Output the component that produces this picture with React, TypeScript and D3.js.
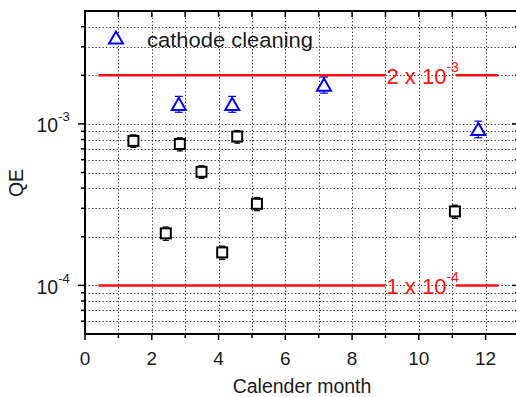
import { useEffect, useRef } from 'react'
import * as d3 from 'd3'

// QE measurements (black squares)
const qeMonths = [1.45, 2.42, 2.84, 3.49, 4.11, 4.56, 5.15, 11.08]
const qeValues = [7.85e-4, 2.1e-4, 7.5e-4, 5.05e-4, 1.6e-4, 8.35e-4, 3.2e-4, 2.87e-4]
const qeErrors = [0.7e-4, 0.2e-4, 0.7e-4, 0.45e-4, 0.15e-4, 0.75e-4, 0.3e-4, 0.27e-4]

// after cathode cleaning (blue triangles)
const cleanMonths = [2.81, 4.41, 7.16, 11.78]
const cleanValues = [1.33e-3, 1.33e-3, 1.75e-3, 9.3e-4]
const cleanErrors = [1.5e-4, 1.5e-4, 2.0e-4, 1.1e-4]

// reference levels
const refLevels = [2e-3, 1e-4]
const refMantissa = ['2', '1']
const refExponent = ['-3', '-4']

const xTicks = [0, 2, 4, 6, 8, 10, 12]
const yMajor = [1e-4, 1e-3]
const yMajorExp = ['-4', '-3']

const W = 516
const H = 397

export default function App() {
  const ref = useRef<SVGSVGElement>(null)

  useEffect(() => {
    const svg = d3.select(ref.current)
    svg.selectAll('*').remove()
    const font = 'Liberation Sans, Arial, sans-serif'
    const ink = '#1a1a1a'

    const x = d3.scaleLinear().domain([0, 13]).range([85, 519])
    const y = d3.scaleLog().domain([5e-5, 5e-3]).range([334, 11])
    const [x0, x1] = x.range()
    const [yb, yt] = y.range()

    // minor / major log values
    const yAll: number[] = []
    for (const dec of [1e-5, 1e-4, 1e-3]) {
      for (let m = 1; m <= 9; m++) {
        const v = m * dec
        if (v > 5e-5 && v < 5e-3) yAll.push(v)
      }
    }
    const months = d3.range(1, 13)

    // dotted grid
    const grid = svg.append('g').attr('stroke', '#333').attr('stroke-width', 1)
      .attr('stroke-dasharray', '1.3,2.2')
    grid.selectAll('line.h').data(yAll).enter().append('line')
      .attr('x1', x0).attr('x2', x1)
      .attr('y1', d => Math.round(y(d)) + 0.5).attr('y2', d => Math.round(y(d)) + 0.5)
    grid.selectAll('line.v').data(months).enter().append('line')
      .attr('y1', yb).attr('y2', yt)
      .attr('x1', d => Math.round(x(d)) + 0.5).attr('x2', d => Math.round(x(d)) + 0.5)

    // reference lines, with a gap for the label
    const gapStart = x(9.0)
    const gapEnd = x(11.1)
    refLevels.forEach((v, i) => {
      const yy = y(v)
      const g = svg.append('g')
      g.append('line').attr('x1', x(0.4)).attr('x2', gapStart).attr('y1', yy).attr('y2', yy)
        .attr('stroke', '#ff1010').attr('stroke-width', 2.5)
      g.append('line').attr('x1', gapEnd).attr('x2', x(12.38)).attr('y1', yy).attr('y2', yy)
        .attr('stroke', '#ff1010').attr('stroke-width', 2.5)
      const t = g.append('text').attr('x', gapStart + 1).attr('y', yy + 8.5)
        .attr('fill', '#ff1010').style('font-family', font).style('font-size', '22px')
      t.append('tspan').text(`${refMantissa[i]} x 10`)
      t.append('tspan').attr('dy', -12).style('font-size', '14px').text(refExponent[i])
    })

    // frame
    svg.append('rect').attr('x', x0).attr('y', yt).attr('width', x1 - x0).attr('height', yb - yt)
      .attr('fill', 'none').attr('stroke', '#000').attr('stroke-width', 2)

    // y ticks (outward on left, inward on right)
    const ticks = svg.append('g').attr('stroke', '#000').attr('stroke-width', 1.5)
    yAll.forEach(v => {
      const major = yMajor.includes(v)
      const len = major ? 7 : 4
      const yy = y(v)
      ticks.append('line').attr('x1', x0 - len).attr('x2', x0).attr('y1', yy).attr('y2', yy)
      ticks.append('line').attr('x1', x1 - len).attr('x2', x1).attr('y1', yy).attr('y2', yy)
    })
    // x ticks (outward on bottom, inward on top)
    d3.range(0, 13).forEach(m => {
      const major = m % 2 === 0
      const xx = x(m)
      ticks.append('line').attr('x1', xx).attr('x2', xx).attr('y1', yb).attr('y2', yb + (major ? 6 : 4))
      ticks.append('line').attr('x1', xx).attr('x2', xx).attr('y1', yt).attr('y2', yt + 6)
    })

    // x tick labels
    svg.selectAll('text.xt').data(xTicks).enter().append('text')
      .attr('x', d => x(d)).attr('y', 365).attr('text-anchor', 'middle')
      .style('font-family', font).style('font-size', '19px').attr('fill', ink)
      .text(d => d)

    // y tick labels
    yMajor.forEach((v, i) => {
      const t = svg.append('text').attr('x', 36.5).attr('y', y(v) + 8.5)
        .style('font-family', font).style('font-size', '19.5px').attr('fill', ink)
      t.append('tspan').text('10')
      t.append('tspan').attr('dy', -11).style('font-size', '13px').text(yMajorExp[i])
    })

    // axis titles
    svg.append('text').attr('x', (x0 + x1) / 2).attr('y', 393).attr('text-anchor', 'middle')
      .style('font-family', font).style('font-size', '19.5px').attr('fill', ink)
      .text('Calender month')
    svg.append('text').attr('transform', `translate(23,${183}) rotate(-90)`).attr('text-anchor', 'middle')
      .style('font-family', font).style('font-size', '19.5px').attr('fill', ink)
      .text('QE')

    // squares with error bars
    const sq = svg.append('g').attr('stroke', '#000').attr('fill', 'none').attr('stroke-width', 2)
    qeMonths.forEach((m, i) => {
      const cx = x(m)
      const cy = y(qeValues[i])
      const ylo = y(qeValues[i] - qeErrors[i])
      const yhi = y(qeValues[i] + qeErrors[i])
      sq.append('line').attr('x1', cx).attr('x2', cx).attr('y1', yhi).attr('y2', ylo).attr('stroke-width', 1.2)
      sq.append('line').attr('x1', cx - 3).attr('x2', cx + 3).attr('y1', yhi).attr('y2', yhi).attr('stroke-width', 1.2)
      sq.append('line').attr('x1', cx - 3).attr('x2', cx + 3).attr('y1', ylo).attr('y2', ylo).attr('stroke-width', 1.2)
      sq.append('rect').attr('x', cx - 5).attr('y', cy - 5).attr('width', 10).attr('height', 10)
        .attr('fill', '#fff')
    })

    // triangles with error bars
    const tri = d3.symbol().type(d3.symbolTriangle).size(85)
    const tg = svg.append('g').attr('stroke', '#0000ff').attr('fill', 'none').attr('stroke-width', 2)
    cleanMonths.forEach((m, i) => {
      const cx = x(m)
      const cy = y(cleanValues[i])
      const ylo = y(cleanValues[i] - cleanErrors[i])
      const yhi = y(cleanValues[i] + cleanErrors[i])
      tg.append('line').attr('x1', cx).attr('x2', cx).attr('y1', yhi).attr('y2', ylo).attr('stroke-width', 1.2)
      tg.append('line').attr('x1', cx - 4).attr('x2', cx + 4).attr('y1', yhi).attr('y2', yhi).attr('stroke-width', 1.2)
      tg.append('line').attr('x1', cx - 4).attr('x2', cx + 4).attr('y1', ylo).attr('y2', ylo).attr('stroke-width', 1.2)
      tg.append('path').attr('d', tri).attr('transform', `translate(${cx},${cy + 2})`).attr('fill', '#fff')
    })

    // legend
    svg.append('path').attr('d', tri).attr('transform', 'translate(116,39.5)')
      .attr('fill', '#fff').attr('stroke', '#0000ff').attr('stroke-width', 2)
    svg.append('text').attr('x', 147).attr('y', 46.5)
      .attr('textLength', 166).attr('lengthAdjust', 'spacingAndGlyphs')
      .style('font-family', font).style('font-size', '20px').attr('fill', ink)
      .text('cathode cleaning')
  }, [])

  return (
    <svg ref={ref} width={W} height={H}
      style={{ position: 'absolute', left: 0, top: 0, background: '#fff' }} />
  )
}
